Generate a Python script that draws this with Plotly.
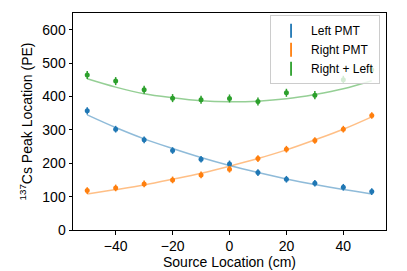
import plotly.graph_objects as go

x = [-50, -40, -30, -20, -10, 0, 10, 20, 30, 40, 50]
left_pmt = [357, 302, 270, 238, 212, 198, 172, 152, 140, 128, 115]
right_pmt = [118, 126, 138, 150, 165, 182, 214, 242, 268, 302, 343]
right_left = [464, 446, 420, 395, 390, 394, 385, 411, 404, 450, 480]
err_left = [11, 10, 10, 10, 10, 10, 10, 10, 10, 10, 10]
err_right = [10, 10, 10, 10, 10, 10, 10, 10, 10, 10, 10]
err_sum = [12, 12, 12, 12, 12, 12, 12, 12, 12, 12, 12]
fit_left = [345, 307, 273, 244, 217, 193, 172, 153, 136, 121, 108]
fit_right = [108, 121, 135, 152, 170, 191, 214, 240, 270, 302, 339]
fit_sum = [453, 428, 408, 396, 387, 384, 386, 393, 406, 423, 447]

names = ["Left PMT", "Right PMT", "Right + Left"]
colors = ["#1f77b4", "#ff7f0e", "#2ca02c"]
fits_rgba = ["rgba(31,119,180,0.5)", "rgba(255,127,14,0.5)", "rgba(44,160,44,0.5)"]

fig = go.Figure()
for fit, fc in zip([fit_left, fit_right, fit_sum], fits_rgba):
    fig.add_trace(go.Scatter(x=x, y=fit, mode="lines", line=dict(color=fc, width=1.5, shape="spline"),
                             showlegend=False, hoverinfo="skip"))
for data, err, name, c in zip([left_pmt, right_pmt, right_left], [err_left, err_right, err_sum], names, colors):
    fig.add_trace(go.Scatter(x=x, y=data, mode="markers", name=name, showlegend=False,
                             marker=dict(color=c, size=5),
                             error_y=dict(type="data", array=err, color=c, thickness=1.5, width=0)))
# legend glyphs (vertical error-bar look)
for name, c in zip(names, colors):
    fig.add_trace(go.Scatter(x=[None], y=[None], mode="markers", name=name,
                             marker=dict(symbol="line-ns", size=10, line=dict(color=c, width=1.8), color=c)))

axis_common = dict(showline=True, linecolor="black", linewidth=1, mirror=True, ticks="outside",
                   ticklen=3.5, tickwidth=1, tickcolor="black", showgrid=False, zeroline=False,
                   automargin=False, tickfont=dict(size=14, color="black"))
fig.update_layout(
    width=407, height=271,
    margin=dict(l=73, r=21, t=13, b=41),
    paper_bgcolor="white", plot_bgcolor="white",
    font=dict(family="Liberation Sans, Arial, sans-serif", size=14, color="black"),
    xaxis=dict(range=[-55, 55], tickvals=[-40, -20, 0, 20, 40],
               ticktext=["\u221240", "\u221220", "0", "20", "40"],
               title=dict(text="Source Location (cm)", font=dict(size=14), standoff=2), **axis_common),
    yaxis=dict(range=[0, 650], tickvals=[0, 100, 200, 300, 400, 500, 600],
               title=dict(text="<sup>137</sup>Cs Peak Location (PE)", font=dict(size=14), standoff=6), **axis_common),
    legend=dict(x=0.981, y=0.99, xanchor="right", yanchor="top",
                bgcolor="rgba(255,255,255,0.8)", bordercolor="#cccccc", borderwidth=1,
                font=dict(size=12), itemwidth=30, tracegroupgap=0),
    showlegend=True,
)
fig.write_html("out.html", config={"displayModeBar": False},
               post_script="document.body.style.margin='0';document.body.style.overflow='hidden';")
